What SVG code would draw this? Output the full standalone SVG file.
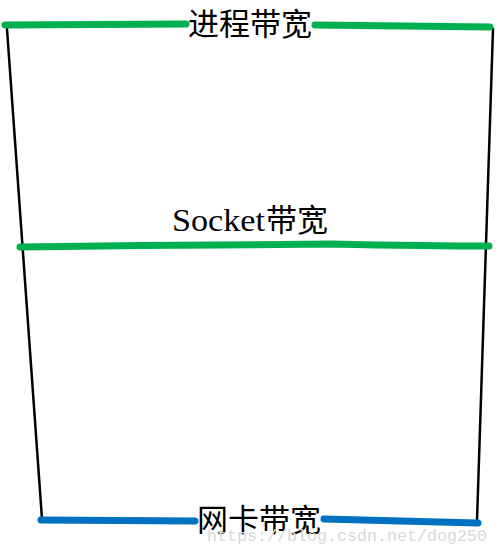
<svg xmlns="http://www.w3.org/2000/svg" width="499" height="553" viewBox="0 0 499 553">
<style>
.side{fill:none;stroke:#000;stroke-width:2.5;stroke-linecap:round}
.g{fill:none;stroke:#00B050;stroke-width:7;stroke-linecap:round;stroke-linejoin:round}
.b{fill:none;stroke:#0070C0;stroke-width:7;stroke-linecap:round;stroke-linejoin:round}
.cjk{font-family:"Noto Sans CJK SC","Noto Sans",sans-serif;font-size:31px;fill:#000}
.serif{font-family:"Liberation Serif",serif;font-size:31px;fill:#000}
.wm{font-family:"Liberation Mono",monospace;font-size:16px;fill:#d8d8d8}
</style>
<rect width="499" height="553" fill="#fff"/>
<g id="connectors">
<path class="side" d="M7,29 L42,519"/>
<path class="side" d="M493,29 L477,521"/>
</g>
<g id="process">
<path class="g" d="M5,25 L186,24"/>
<path class="g" d="M315,25 L490,27"/>
<text class="cjk" x="188" y="35">进程带宽</text>
</g>
<g id="socket">
<path class="g" d="M20,247 C120,246 250,244 330,244 C380,245 440,246 489,246"/>
<text class="serif" x="172" y="231" textLength="93" lengthAdjust="spacingAndGlyphs">Socket</text>
<text class="cjk" x="266" y="231">带宽</text>
</g>
<g id="nic">
<path class="b" d="M41,520 L195,521"/>
<path class="b" d="M324,519 L478,523"/>
<text class="cjk" x="197" y="531">网卡带宽</text>
</g>
<text class="wm" x="207" y="541" textLength="280" lengthAdjust="spacingAndGlyphs">https://blog.csdn.net/dog250</text>
</svg>
